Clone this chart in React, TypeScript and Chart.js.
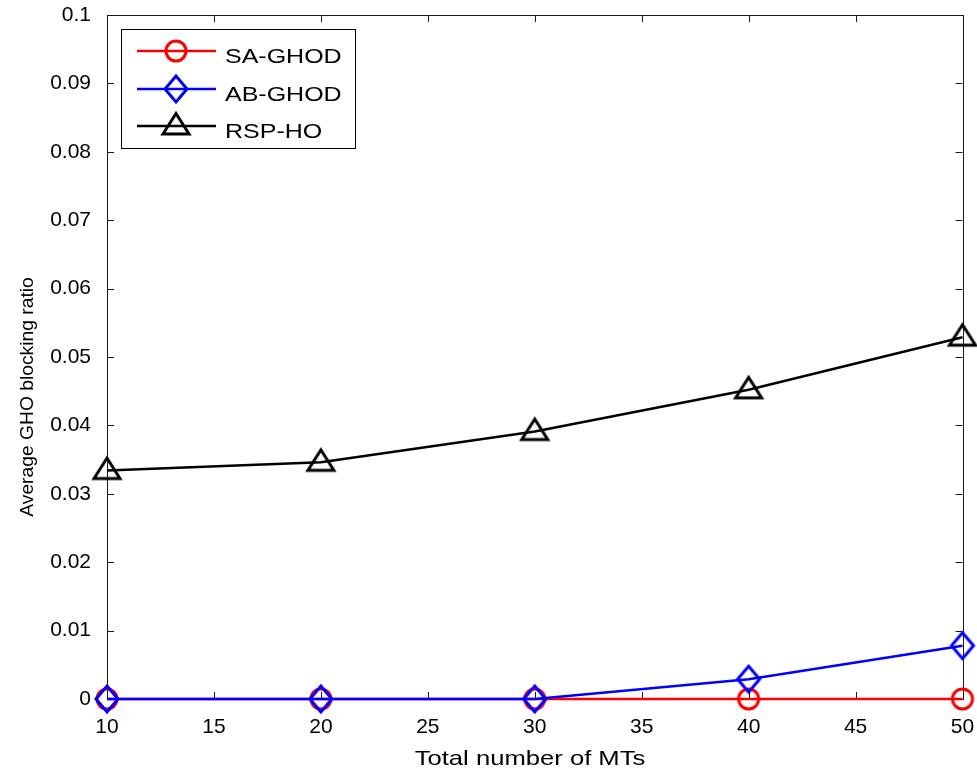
import React, { useEffect, useRef } from 'react';
import { Chart, registerables } from 'chart.js';

Chart.register(...registerables);

// ---- data ----
const mtCounts = [10, 20, 30, 40, 50];
const saGhod = [0, 0, 0, 0, 0];
const abGhod = [0, 0, 0, 0.0029, 0.0078];
const rspHo = [0.0334, 0.0346, 0.0391, 0.0452, 0.0529];

const seriesNames = ['SA-GHOD', 'AB-GHOD', 'RSP-HO'];
const seriesColors = ['#ff0000', '#0000ff', '#000000'];
const seriesMarkers = ['circle', 'diamond', 'triangle'];

const xTickValues = [10, 15, 20, 25, 30, 35, 40, 45, 50];
const yTickValues = [0, 0.01, 0.02, 0.03, 0.04, 0.05, 0.06, 0.07, 0.08, 0.09, 0.1];
const yTickLabels = ['0', '0.01', '0.02', '0.03', '0.04', '0.05', '0.06', '0.07', '0.08', '0.09', '0.1'];

const xTitle = 'Total number of MTs';
const yTitle = 'Average GHO blocking ratio';

const FONT = '"Liberation Sans", Arial, Helvetica, sans-serif';

function drawMarkerPath(ctx: CanvasRenderingContext2D, shape: string, cx: number, cy: number) {
  ctx.beginPath();
  if (shape === 'circle') {
    ctx.arc(cx, cy, 10, 0, Math.PI * 2);
  } else if (shape === 'diamond') {
    ctx.moveTo(cx, cy - 13);
    ctx.lineTo(cx + 11, cy);
    ctx.lineTo(cx, cy + 13);
    ctx.lineTo(cx - 11, cy);
    ctx.closePath();
  } else {
    ctx.moveTo(cx, cy - 12.5);
    ctx.lineTo(cx + 13, cy + 8);
    ctx.lineTo(cx - 13, cy + 8);
    ctx.closePath();
  }
}

function makeMarker(shape: string, color: string): HTMLCanvasElement {
  const c = document.createElement('canvas');
  c.width = 38;
  c.height = 38;
  const ctx = c.getContext('2d')!;
  ctx.strokeStyle = color;
  ctx.lineWidth = 3;
  ctx.lineJoin = 'miter';
  drawMarkerPath(ctx, shape, 19, 19);
  ctx.stroke();
  return c;
}

function stretchedText(ctx: CanvasRenderingContext2D, text: string, x: number, y: number, sx: number, align: 'left' | 'center') {
  ctx.save();
  ctx.translate(x, y);
  ctx.scale(sx, 1);
  ctx.textAlign = align;
  ctx.textBaseline = 'alphabetic';
  ctx.fillText(text, 0, 0);
  ctx.restore();
}

function zeroPadding(s: any) {
  s.paddingLeft = 0;
  s.paddingRight = 0;
  s.paddingTop = 0;
  s.paddingBottom = 0;
}

export default function App() {
  const ref = useRef<HTMLCanvasElement>(null);

  useEffect(() => {
    if (!ref.current) return;
    const markers = seriesMarkers.map((m, i) => makeMarker(m, seriesColors[i]));
    const values = [saGhod, abGhod, rspHo];

    const framePlugin = {
      id: 'matlabFrame',
      beforeDatasetsDraw(chart: any) {
        const { ctx, chartArea } = chart;
        const { left, right, top, bottom } = chartArea;
        const xs = chart.scales.x;
        const ys = chart.scales.y;
        ctx.save();
        ctx.strokeStyle = '#1a1a1a';
        ctx.lineWidth = 1;
        ctx.strokeRect(Math.round(left) + 0.5, Math.round(top) + 0.5, Math.round(right - left), Math.round(bottom - top));
        const tl = 7;
        ctx.beginPath();
        xTickValues.forEach((v) => {
          const px = Math.round(xs.getPixelForValue(v)) + 0.5;
          ctx.moveTo(px, bottom);
          ctx.lineTo(px, bottom - tl);
          ctx.moveTo(px, top);
          ctx.lineTo(px, top + tl);
        });
        yTickValues.forEach((v) => {
          const py = Math.round(ys.getPixelForValue(v)) + 0.5;
          ctx.moveTo(left, py);
          ctx.lineTo(left + tl, py);
          ctx.moveTo(right, py);
          ctx.lineTo(right - tl, py);
        });
        ctx.stroke();
        ctx.restore();
      },
      afterDraw(chart: any) {
        const { ctx } = chart;
        ctx.save();
        ctx.fillStyle = '#000';
        // axis titles
        ctx.font = `21px ${FONT}`;
        stretchedText(ctx, xTitle, 530, 765, 1.22, 'center');
        ctx.save();
        ctx.translate(33, 397);
        ctx.rotate(-Math.PI / 2);
        ctx.font = `18px ${FONT}`;
        stretchedText(ctx, yTitle, 0, 0, 1.07, 'center');
        ctx.restore();

        // legend box
        const bx = 121.5, by = 29.5, bw = 234, bh = 119;
        ctx.fillStyle = '#fff';
        ctx.fillRect(bx, by, bw, bh);
        ctx.strokeStyle = '#000';
        ctx.lineWidth = 1;
        ctx.strokeRect(bx, by, bw, bh);
        const rows = [51, 89, 126];
        seriesNames.forEach((name, i) => {
          const ry = rows[i];
          ctx.strokeStyle = seriesColors[i];
          ctx.lineWidth = 2.5;
          ctx.beginPath();
          ctx.moveTo(137, ry);
          ctx.lineTo(216, ry);
          ctx.stroke();
          ctx.drawImage(markers[i], 176 - 19, ry - 19);
          ctx.fillStyle = '#000';
          ctx.font = `21px ${FONT}`;
          stretchedText(ctx, name, 225, ry + 12, 1.19, 'left');
        });
        ctx.restore();
      },
    };

    const chart = new Chart(ref.current, {
      type: 'line',
      data: {
        datasets: seriesNames.map((name, i) => ({
          label: name,
          data: mtCounts.map((x, j) => ({ x, y: values[i][j] })),
          borderColor: seriesColors[i],
          backgroundColor: seriesColors[i],
          borderWidth: 2.5,
          pointStyle: markers[i] as any,
          pointRadius: 12,
          pointHoverRadius: 12,
          tension: 0,
          fill: false,
          clip: false as any,
          order: 3 - i,
        })),
      },
      options: {
        animation: false,
        responsive: false,
        maintainAspectRatio: false,
        events: [],
        layout: { padding: { left: 0, right: 11, top: 15, bottom: 0 } },
        scales: {
          x: {
            type: 'linear',
            min: 10,
            max: 50,
            afterBuildTicks: (s: any) => {
              s.ticks = xTickValues.map((v) => ({ value: v }));
            },
            afterFit: (s: any) => {
              s.height = 75;
              zeroPadding(s);
            },
            grid: { display: false },
            border: { display: false },
            ticks: {
              color: '#000',
              font: { family: FONT, size: 21 },
              padding: 8,
              maxRotation: 0,
              autoSkip: false,
              callback: (v: any) => String(v),
            },
          },
          y: {
            type: 'linear',
            min: 0,
            max: 0.1,
            afterBuildTicks: (s: any) => {
              s.ticks = yTickValues.map((v) => ({ value: v }));
            },
            afterFit: (s: any) => {
              s.width = 107;
              zeroPadding(s);
            },
            grid: { display: false },
            border: { display: false },
            ticks: {
              color: '#000',
              font: { family: FONT, size: 21 },
              padding: 8,
              autoSkip: false,
              callback: (_v: any, i: number) => yTickLabels[i],
            },
          },
        },
        plugins: {
          legend: { display: false },
          tooltip: { enabled: false },
        },
      },
      plugins: [framePlugin],
    });

    return () => chart.destroy();
  }, []);

  return (
    <div style={{ position: 'absolute', left: 0, top: 0, width: 977, height: 774, background: '#fff' }}>
      <canvas ref={ref} width={977} height={774} style={{ display: 'block', width: 977, height: 774 }} />
    </div>
  );
}
